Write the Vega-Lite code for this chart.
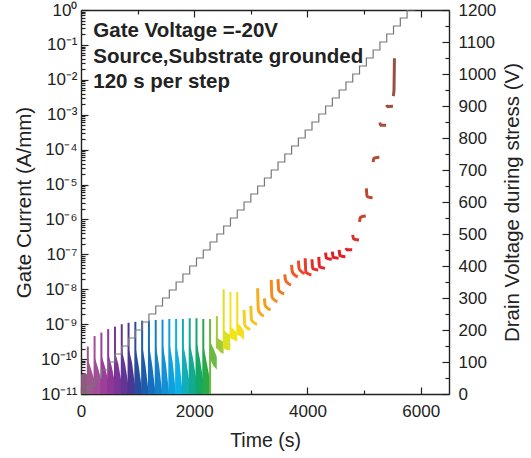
{
  "$schema": "https://vega.github.io/schema/vega-lite/v6.json",
  "width": 368,
  "height": 384,
  "autosize": "none",
  "padding": {"left": 81, "top": 10, "right": 82, "bottom": 64},
  "config": {
    "font": "Liberation Sans",
    "view": {"stroke": null},
    "axis": {
      "grid": false, "domainColor": "#222", "domainWidth": 1.4, "tickColor": "#222", "tickWidth": 1.2,
      "labelColor": "#222", "titleColor": "#222", "labelFontSize": 17, "titleFontSize": 20.5,
      "titleFontWeight": "normal", "labelFont": "Liberation Sans", "titleFont": "Liberation Sans",
      "labelOverlap": false, "labelFlush": false, "labelBound": false, "zindex": 1
    }
  },
  "datasets": {
    "notes": [{"label": "note"}],
    "bands": [
      {"step": 0, "t": 2, "hi": 3.55e-11, "lo": 3e-12}, {"step": 0, "t": 60, "hi": 3.98e-11, "lo": 3e-12}, {"step": 0, "t": 118, "hi": 3.55e-11, "lo": 3e-12},
      {"step": 1, "t": 123, "hi": 1e-10, "lo": 3e-12}, {"step": 1, "t": 180, "hi": 5.01e-11, "lo": 3e-12}, {"step": 1, "t": 238, "hi": 2.51e-11, "lo": 3e-12},
      {"step": 2, "t": 243, "hi": 1.12e-10, "lo": 3e-12}, {"step": 2, "t": 300, "hi": 5.62e-11, "lo": 3e-12}, {"step": 2, "t": 358, "hi": 2.51e-11, "lo": 3e-12},
      {"step": 3, "t": 363, "hi": 1.26e-10, "lo": 3e-12}, {"step": 3, "t": 420, "hi": 6.31e-11, "lo": 3e-12}, {"step": 3, "t": 478, "hi": 2.51e-11, "lo": 3e-12},
      {"step": 4, "t": 483, "hi": 1.41e-10, "lo": 3e-12}, {"step": 4, "t": 540, "hi": 6.31e-11, "lo": 3e-12}, {"step": 4, "t": 598, "hi": 2.24e-11, "lo": 3e-12},
      {"step": 5, "t": 603, "hi": 1.58e-10, "lo": 3e-12}, {"step": 5, "t": 660, "hi": 7.08e-11, "lo": 3e-12}, {"step": 5, "t": 718, "hi": 2.0e-11, "lo": 3e-12},
      {"step": 6, "t": 723, "hi": 1.78e-10, "lo": 3e-12}, {"step": 6, "t": 780, "hi": 7.08e-11, "lo": 3e-12}, {"step": 6, "t": 838, "hi": 1.78e-11, "lo": 3e-12},
      {"step": 7, "t": 843, "hi": 2.0e-10, "lo": 3e-12}, {"step": 7, "t": 900, "hi": 7.94e-11, "lo": 3e-12}, {"step": 7, "t": 958, "hi": 1.58e-11, "lo": 3e-12},
      {"step": 8, "t": 963, "hi": 2.24e-10, "lo": 3e-12}, {"step": 8, "t": 1020, "hi": 6.31e-11, "lo": 3e-12}, {"step": 8, "t": 1078, "hi": 1.26e-11, "lo": 3e-12},
      {"step": 9, "t": 1083, "hi": 2.51e-10, "lo": 3e-12}, {"step": 9, "t": 1140, "hi": 6.31e-11, "lo": 3e-12}, {"step": 9, "t": 1198, "hi": 1e-11, "lo": 3e-12},
      {"step": 10, "t": 1203, "hi": 2.51e-10, "lo": 3e-12}, {"step": 10, "t": 1260, "hi": 6.31e-11, "lo": 3e-12}, {"step": 10, "t": 1318, "hi": 1e-11, "lo": 3e-12},
      {"step": 11, "t": 1323, "hi": 2.51e-10, "lo": 3e-12}, {"step": 11, "t": 1380, "hi": 6.31e-11, "lo": 3e-12}, {"step": 11, "t": 1438, "hi": 1e-11, "lo": 3e-12},
      {"step": 12, "t": 1443, "hi": 2.82e-10, "lo": 3e-12}, {"step": 12, "t": 1500, "hi": 7.08e-11, "lo": 3e-12}, {"step": 12, "t": 1558, "hi": 1e-11, "lo": 3e-12},
      {"step": 13, "t": 1563, "hi": 2.82e-10, "lo": 3e-12}, {"step": 13, "t": 1620, "hi": 7.94e-11, "lo": 3e-12}, {"step": 13, "t": 1678, "hi": 1e-11, "lo": 3e-12},
      {"step": 14, "t": 1683, "hi": 2.82e-10, "lo": 3e-12}, {"step": 14, "t": 1740, "hi": 7.94e-11, "lo": 3e-12}, {"step": 14, "t": 1798, "hi": 1e-11, "lo": 3e-12},
      {"step": 15, "t": 1803, "hi": 2.82e-10, "lo": 3e-12}, {"step": 15, "t": 1860, "hi": 8.91e-11, "lo": 3e-12}, {"step": 15, "t": 1918, "hi": 2.0e-11, "lo": 3e-12},
      {"step": 16, "t": 1923, "hi": 2.82e-10, "lo": 3e-12}, {"step": 16, "t": 1980, "hi": 1e-10, "lo": 3e-12}, {"step": 16, "t": 2038, "hi": 2.51e-11, "lo": 3e-12},
      {"step": 17, "t": 2043, "hi": 3.16e-10, "lo": 3e-12}, {"step": 17, "t": 2100, "hi": 1e-10, "lo": 3e-12}, {"step": 17, "t": 2158, "hi": 2.51e-11, "lo": 3e-12},
      {"step": 18, "t": 2163, "hi": 2.51e-10, "lo": 3e-12}, {"step": 18, "t": 2220, "hi": 7.94e-11, "lo": 3e-12}, {"step": 18, "t": 2278, "hi": 2.51e-11, "lo": 3e-12},
      {"step": 19, "t": 2283, "hi": 3.16e-10, "lo": 1.0e-10}, {"step": 19, "t": 2340, "hi": 2.0e-10, "lo": 6.31e-11}, {"step": 19, "t": 2398, "hi": 1.17e-10, "lo": 5.01e-11},
      {"step": 20, "t": 2403, "hi": 4.07e-10, "lo": 2.0e-10}, {"step": 20, "t": 2460, "hi": 3.55e-10, "lo": 1.58e-10}, {"step": 20, "t": 2518, "hi": 3.16e-10, "lo": 1.41e-10},
      {"step": 21, "t": 2523, "hi": 6.76e-10, "lo": 2.0e-10}, {"step": 21, "t": 2580, "hi": 5.62e-10, "lo": 1.78e-10}, {"step": 21, "t": 2638, "hi": 5.01e-10, "lo": 1.78e-10},
      {"step": 22, "t": 2643, "hi": 8.51e-10, "lo": 3.98e-10}, {"step": 22, "t": 2700, "hi": 7.08e-10, "lo": 3.55e-10}, {"step": 22, "t": 2758, "hi": 5.62e-10, "lo": 3.16e-10},
      {"step": 23, "t": 2763, "hi": 1.07e-9, "lo": 5.01e-10}, {"step": 23, "t": 2820, "hi": 8.91e-10, "lo": 4.47e-10}, {"step": 23, "t": 2878, "hi": 6.31e-10, "lo": 3.55e-10}
    ],
    "spikes": [
      {"step": 1, "t": 120, "peak": 2.29e-10, "base": 3e-12},
      {"step": 2, "t": 240, "peak": 4.57e-10, "base": 3e-12},
      {"step": 3, "t": 360, "peak": 5.75e-10, "base": 3e-12},
      {"step": 4, "t": 480, "peak": 7.24e-10, "base": 3e-12},
      {"step": 5, "t": 600, "peak": 8.51e-10, "base": 3e-12},
      {"step": 6, "t": 720, "peak": 1.0e-9, "base": 3e-12},
      {"step": 7, "t": 840, "peak": 1.10e-9, "base": 3e-12},
      {"step": 8, "t": 960, "peak": 1.17e-9, "base": 3e-12},
      {"step": 9, "t": 1080, "peak": 1.26e-9, "base": 3e-12},
      {"step": 10, "t": 1200, "peak": 1.26e-9, "base": 3e-12},
      {"step": 11, "t": 1320, "peak": 1.32e-9, "base": 3e-12},
      {"step": 12, "t": 1440, "peak": 1.35e-9, "base": 3e-12},
      {"step": 13, "t": 1560, "peak": 1.41e-9, "base": 3e-12},
      {"step": 14, "t": 1680, "peak": 1.41e-9, "base": 3e-12},
      {"step": 15, "t": 1800, "peak": 1.41e-9, "base": 3e-12},
      {"step": 16, "t": 1920, "peak": 1.48e-9, "base": 3e-12},
      {"step": 17, "t": 2040, "peak": 1.48e-9, "base": 3e-12},
      {"step": 18, "t": 2160, "peak": 1.41e-9, "base": 3e-12},
      {"step": 19, "t": 2280, "peak": 1.41e-9, "base": 3e-12},
      {"step": 20, "t": 2400, "peak": 1.70e-9, "base": 2.0e-10},
      {"step": 21, "t": 2520, "peak": 1.0e-8, "base": 2.0e-10},
      {"step": 22, "t": 2640, "peak": 8.51e-9, "base": 3.98e-10},
      {"step": 23, "t": 2760, "peak": 8.32e-9, "base": 5.01e-10}
    ],
    "curves": [
      {"step": 24, "t": 2880, "I": 2.57e-9}, {"step": 24, "t": 2892, "I": 9.55e-10}, {"step": 24, "t": 2920, "I": 8.22e-10}, {"step": 24, "t": 2990, "I": 7.08e-10},
      {"step": 25, "t": 3000, "I": 3.31e-9}, {"step": 25, "t": 3012, "I": 1.32e-9}, {"step": 25, "t": 3040, "I": 1.15e-9}, {"step": 25, "t": 3110, "I": 1.0e-9},
      {"step": 26, "t": 3120, "I": 1.07e-8}, {"step": 26, "t": 3132, "I": 2.57e-9}, {"step": 26, "t": 3160, "I": 2.09e-9}, {"step": 26, "t": 3230, "I": 1.70e-9},
      {"step": 27, "t": 3240, "I": 5.50e-9}, {"step": 27, "t": 3252, "I": 3.55e-9}, {"step": 27, "t": 3280, "I": 3.02e-9}, {"step": 27, "t": 3350, "I": 2.57e-9},
      {"step": 28, "t": 3360, "I": 1.86e-8}, {"step": 28, "t": 3372, "I": 6.17e-9}, {"step": 28, "t": 3400, "I": 5.19e-9}, {"step": 28, "t": 3470, "I": 4.37e-9},
      {"step": 29, "t": 3480, "I": 1.95e-8}, {"step": 29, "t": 3492, "I": 9.55e-9}, {"step": 29, "t": 3520, "I": 8.41e-9}, {"step": 29, "t": 3590, "I": 7.41e-9},
      {"step": 30, "t": 3600, "I": 2.69e-8}, {"step": 30, "t": 3612, "I": 1.86e-8}, {"step": 30, "t": 3640, "I": 1.57e-8}, {"step": 30, "t": 3710, "I": 1.32e-8},
      {"step": 31, "t": 3720, "I": 5.01e-8}, {"step": 31, "t": 3732, "I": 3.16e-8}, {"step": 31, "t": 3760, "I": 2.69e-8}, {"step": 31, "t": 3830, "I": 2.29e-8},
      {"step": 32, "t": 3840, "I": 6.61e-8}, {"step": 32, "t": 3852, "I": 3.98e-8}, {"step": 32, "t": 3880, "I": 3.35e-8}, {"step": 32, "t": 3950, "I": 2.82e-8},
      {"step": 33, "t": 3960, "I": 7.76e-8}, {"step": 33, "t": 3972, "I": 3.16e-8}, {"step": 33, "t": 4000, "I": 2.85e-8}, {"step": 33, "t": 4070, "I": 2.57e-8},
      {"step": 34, "t": 4080, "I": 7.24e-8}, {"step": 34, "t": 4092, "I": 3.98e-8}, {"step": 34, "t": 4120, "I": 3.76e-8}, {"step": 34, "t": 4190, "I": 3.55e-8},
      {"step": 35, "t": 4200, "I": 8.51e-8}, {"step": 35, "t": 4212, "I": 4.47e-8}, {"step": 35, "t": 4240, "I": 4.22e-8}, {"step": 35, "t": 4310, "I": 3.98e-8},
      {"step": 36, "t": 4320, "I": 1.12e-7}, {"step": 36, "t": 4332, "I": 7.94e-8}, {"step": 36, "t": 4360, "I": 7.59e-8}, {"step": 36, "t": 4430, "I": 7.24e-8},
      {"step": 37, "t": 4440, "I": 1.20e-7}, {"step": 37, "t": 4452, "I": 8.32e-8}, {"step": 37, "t": 4480, "I": 8.04e-8}, {"step": 37, "t": 4550, "I": 7.76e-8},
      {"step": 38, "t": 4560, "I": 1.35e-7}, {"step": 38, "t": 4572, "I": 9.33e-8}, {"step": 38, "t": 4600, "I": 8.91e-8}, {"step": 38, "t": 4670, "I": 8.51e-8},
      {"step": 39, "t": 4680, "I": 1.51e-7}, {"step": 39, "t": 4692, "I": 1.38e-7}, {"step": 39, "t": 4720, "I": 1.36e-7}, {"step": 39, "t": 4790, "I": 1.35e-7},
      {"step": 40, "t": 4800, "I": 3.63e-7}, {"step": 40, "t": 4812, "I": 2.82e-7}, {"step": 40, "t": 4840, "I": 2.69e-7}, {"step": 40, "t": 4910, "I": 2.57e-7},
      {"step": 41, "t": 4920, "I": 8.51e-7}, {"step": 41, "t": 4932, "I": 1.12e-6}, {"step": 41, "t": 4960, "I": 1.20e-6}, {"step": 41, "t": 5030, "I": 1.26e-6},
      {"step": 42, "t": 5040, "I": 7.76e-6}, {"step": 42, "t": 5052, "I": 4.68e-6}, {"step": 42, "t": 5080, "I": 4.37e-6}, {"step": 42, "t": 5150, "I": 4.17e-6},
      {"step": 43, "t": 5160, "I": 4.37e-5}, {"step": 43, "t": 5172, "I": 5.62e-5}, {"step": 43, "t": 5200, "I": 5.89e-5}, {"step": 43, "t": 5270, "I": 6.03e-5},
      {"step": 44, "t": 5280, "I": 6.03e-4}, {"step": 44, "t": 5292, "I": 5.01e-4}, {"step": 44, "t": 5320, "I": 5.01e-4}, {"step": 44, "t": 5390, "I": 5.01e-4},
      {"step": 45, "t": 5400, "I": 1.91e-3}, {"step": 45, "t": 5412, "I": 1.70e-3}, {"step": 45, "t": 5440, "I": 1.72e-3}, {"step": 45, "t": 5510, "I": 1.74e-3},
      {"step": 46, "t": 5515, "I": 3.39e-3}, {"step": 46, "t": 5528, "I": 5.01e-3}, {"step": 46, "t": 5533, "I": 1.58e-2}, {"step": 46, "t": 5536, "I": 4.17e-2}
    ],
    "stair": [
      {"t": 0, "V": 0}, {"t": 120, "V": 25}, {"t": 240, "V": 50}, {"t": 360, "V": 75}, {"t": 480, "V": 100},
      {"t": 600, "V": 125}, {"t": 720, "V": 150}, {"t": 840, "V": 175}, {"t": 960, "V": 200}, {"t": 1080, "V": 225},
      {"t": 1200, "V": 250}, {"t": 1320, "V": 275}, {"t": 1440, "V": 300}, {"t": 1560, "V": 325}, {"t": 1680, "V": 350},
      {"t": 1800, "V": 375}, {"t": 1920, "V": 400}, {"t": 2040, "V": 425}, {"t": 2160, "V": 450}, {"t": 2280, "V": 475},
      {"t": 2400, "V": 500}, {"t": 2520, "V": 525}, {"t": 2640, "V": 550}, {"t": 2760, "V": 575}, {"t": 2880, "V": 600},
      {"t": 3000, "V": 625}, {"t": 3120, "V": 650}, {"t": 3240, "V": 675}, {"t": 3360, "V": 700}, {"t": 3480, "V": 725},
      {"t": 3600, "V": 750}, {"t": 3720, "V": 775}, {"t": 3840, "V": 800}, {"t": 3960, "V": 825}, {"t": 4080, "V": 850},
      {"t": 4200, "V": 875}, {"t": 4320, "V": 900}, {"t": 4440, "V": 925}, {"t": 4560, "V": 950}, {"t": 4680, "V": 975},
      {"t": 4800, "V": 1000}, {"t": 4920, "V": 1025}, {"t": 5040, "V": 1050}, {"t": 5160, "V": 1075}, {"t": 5280, "V": 1100},
      {"t": 5400, "V": 1125}, {"t": 5520, "V": 1150}, {"t": 5640, "V": 1175}, {"t": 5760, "V": 1200}, {"t": 5900, "V": 1200}
    ]
  },
  "layer": [
    {
      "data": {"name": "bands"},
      "mark": {"type": "area", "clip": true},
      "encoding": {
        "x": {
          "field": "t", "type": "quantitative",
          "scale": {"domain": [0, 6500], "nice": false, "zero": false},
          "axis": {
            "orient": "bottom", "values": [0, 1000, 2000, 3000, 4000, 5000, 6000], "format": "d",
            "labelExpr": "datum.value % 2000 == 0 ? datum.label : ''",
            "tickSize": {"condition": {"test": "datum.value % 2000 == 0", "value": -7}, "value": -4},
            "labelPadding": 16, "title": "Time (s)", "titlePadding": 9, "titleFontSize": 19.5
          }
        },
        "y": {
          "field": "hi", "type": "quantitative",
          "scale": {"type": "log", "domain": [1e-11, 1], "nice": false},
          "axis": {
            "orient": "left",
            "values": [1e-11, 2e-11, 3e-11, 4e-11, 5e-11, 6e-11, 7e-11, 8e-11, 9e-11,
                       1e-10, 2e-10, 3e-10, 4e-10, 5e-10, 6e-10, 7e-10, 8e-10, 9e-10,
                       1e-9, 2e-9, 3e-9, 4e-9, 5e-9, 6e-9, 7e-9, 8e-9, 9e-9,
                       1e-8, 2e-8, 3e-8, 4e-8, 5e-8, 6e-8, 7e-8, 8e-8, 9e-8,
                       1e-7, 2e-7, 3e-7, 4e-7, 5e-7, 6e-7, 7e-7, 8e-7, 9e-7,
                       1e-6, 2e-6, 3e-6, 4e-6, 5e-6, 6e-6, 7e-6, 8e-6, 9e-6,
                       1e-5, 2e-5, 3e-5, 4e-5, 5e-5, 6e-5, 7e-5, 8e-5, 9e-5,
                       1e-4, 2e-4, 3e-4, 4e-4, 5e-4, 6e-4, 7e-4, 8e-4, 9e-4,
                       1e-3, 2e-3, 3e-3, 4e-3, 5e-3, 6e-3, 7e-3, 8e-3, 9e-3,
                       1e-2, 2e-2, 3e-2, 4e-2, 5e-2, 6e-2, 7e-2, 8e-2, 9e-2,
                       1e-1, 2e-1, 3e-1, 4e-1, 5e-1, 6e-1, 7e-1, 8e-1, 9e-1, 1],
            "labelExpr": "abs(log(datum.value)/LN10 - round(log(datum.value)/LN10)) < 0.01 ? '10' + ['⁰','⁻¹','⁻²','⁻³','⁻⁴','⁻⁵','⁻⁶','⁻⁷','⁻⁸','⁻⁹','⁻¹⁰','⁻¹¹'][-round(log(datum.value)/LN10)] : ''",
            "tickSize": {"condition": {"test": "abs(log(datum.value)/LN10 - round(log(datum.value)/LN10)) < 0.01", "value": -7}, "value": -4},
            "labelPadding": 11, "title": "Gate Current (A/mm)", "titlePadding": 6
          }
        },
        "y2": {"field": "lo"},
        "color": {
          "field": "step", "type": "ordinal", "legend": null,
          "scale": {
            "domain": [0,1,2,3,4,5,6,7,8,9,10,11,12,13,14,15,16,17,18,19,20,21,22,23,24,25,26,27,28,29,30,31,32,33,34,35,36,37,38,39,40,41,42,43,44,45,46],
            "range": ["#8c5c7e","#a0568e","#a34c9a","#9c3f99","#8f3797","#7c3596","#633594","#4b3792","#2a4c9d","#1b5dab","#166fbd","#1580c9","#1490d5","#0fa0de","#0db0e6","#12aeb8","#12aa90","#14a866","#28aa48","#6cb942","#a2c93a","#dbe124","#f2e517","#f7df18","#f8d11e","#f7c21c","#f6ad1a","#f59e1a","#f48d1c","#f37b1e","#f06b20","#ee5b22","#ec4b24","#e93b26","#e72e28","#e52428","#e41f26","#e31d26","#e21e26","#e02428","#d6332a","#c8422c","#bb4a30","#b24c34","#a94d38","#a14e3c","#965044"]
          }
        }
      }
    },
    {
      "data": {"name": "spikes"},
      "mark": {"type": "rule", "clip": true, "strokeWidth": 2},
      "encoding": {
        "x": {"field": "t", "type": "quantitative", "axis": null},
        "y": {"field": "peak", "type": "quantitative", "scale": {"type": "log", "domain": [1e-11, 1], "nice": false}, "axis": null},
        "y2": {"field": "base"},
        "color": {"field": "step", "type": "ordinal", "legend": null}
      }
    },
    {
      "data": {"name": "curves"},
      "mark": {"type": "line", "clip": true, "strokeWidth": 3, "interpolate": "monotone"},
      "encoding": {
        "x": {
          "field": "t", "type": "quantitative",
          "axis": {
            "orient": "top", "values": [0, 1000, 2000, 3000, 4000, 5000, 6000], "labels": false, "title": null,
            "tickSize": {"condition": {"test": "datum.value % 2000 == 0", "value": -7}, "value": -4}
          }
        },
        "y": {"field": "I", "type": "quantitative", "scale": {"type": "log", "domain": [1e-11, 1], "nice": false}, "axis": null},
        "color": {"field": "step", "type": "ordinal", "legend": null}
      }
    },
    {
      "data": {"name": "notes"},
      "mark": {
        "type": "text", "fontSize": 20.5, "fontWeight": "bold", "align": "left", "baseline": "alphabetic",
        "lineHeight": 25.5, "color": "#222", "font": "Liberation Sans",
        "text": ["Gate Voltage =-20V", "Source,Substrate grounded", "120 s per step"]
      },
      "encoding": {
        "x": {"datum": 217, "type": "quantitative", "axis": null},
        "y": {"datum": 0.166, "type": "quantitative", "scale": {"type": "log", "domain": [1e-11, 1], "nice": false}, "axis": null}
      }
    },
    {
      "data": {"name": "stair"},
      "mark": {"type": "line", "interpolate": "step-after", "stroke": "#777", "strokeWidth": 1.2, "clip": true},
      "encoding": {
        "x": {"field": "t", "type": "quantitative", "axis": null},
        "y": {
          "field": "V", "type": "quantitative",
          "scale": {"domain": [0, 1200], "nice": false},
          "axis": {
            "orient": "right", "format": "d",
            "values": [0,50,100,150,200,250,300,350,400,450,500,550,600,650,700,750,800,850,900,950,1000,1050,1100,1150,1200],
            "labelExpr": "datum.value % 100 == 0 ? datum.label : ''",
            "tickSize": {"condition": {"test": "datum.value % 100 == 0", "value": -7}, "value": -4},
            "labelPadding": 16, "title": "Drain Voltage during stress (V)", "titleAngle": 270, "titleBaseline": "top", "titlePadding": 7
          }
        }
      }
    }
  ],
  "resolve": {"scale": {"y": "independent"}}
}
